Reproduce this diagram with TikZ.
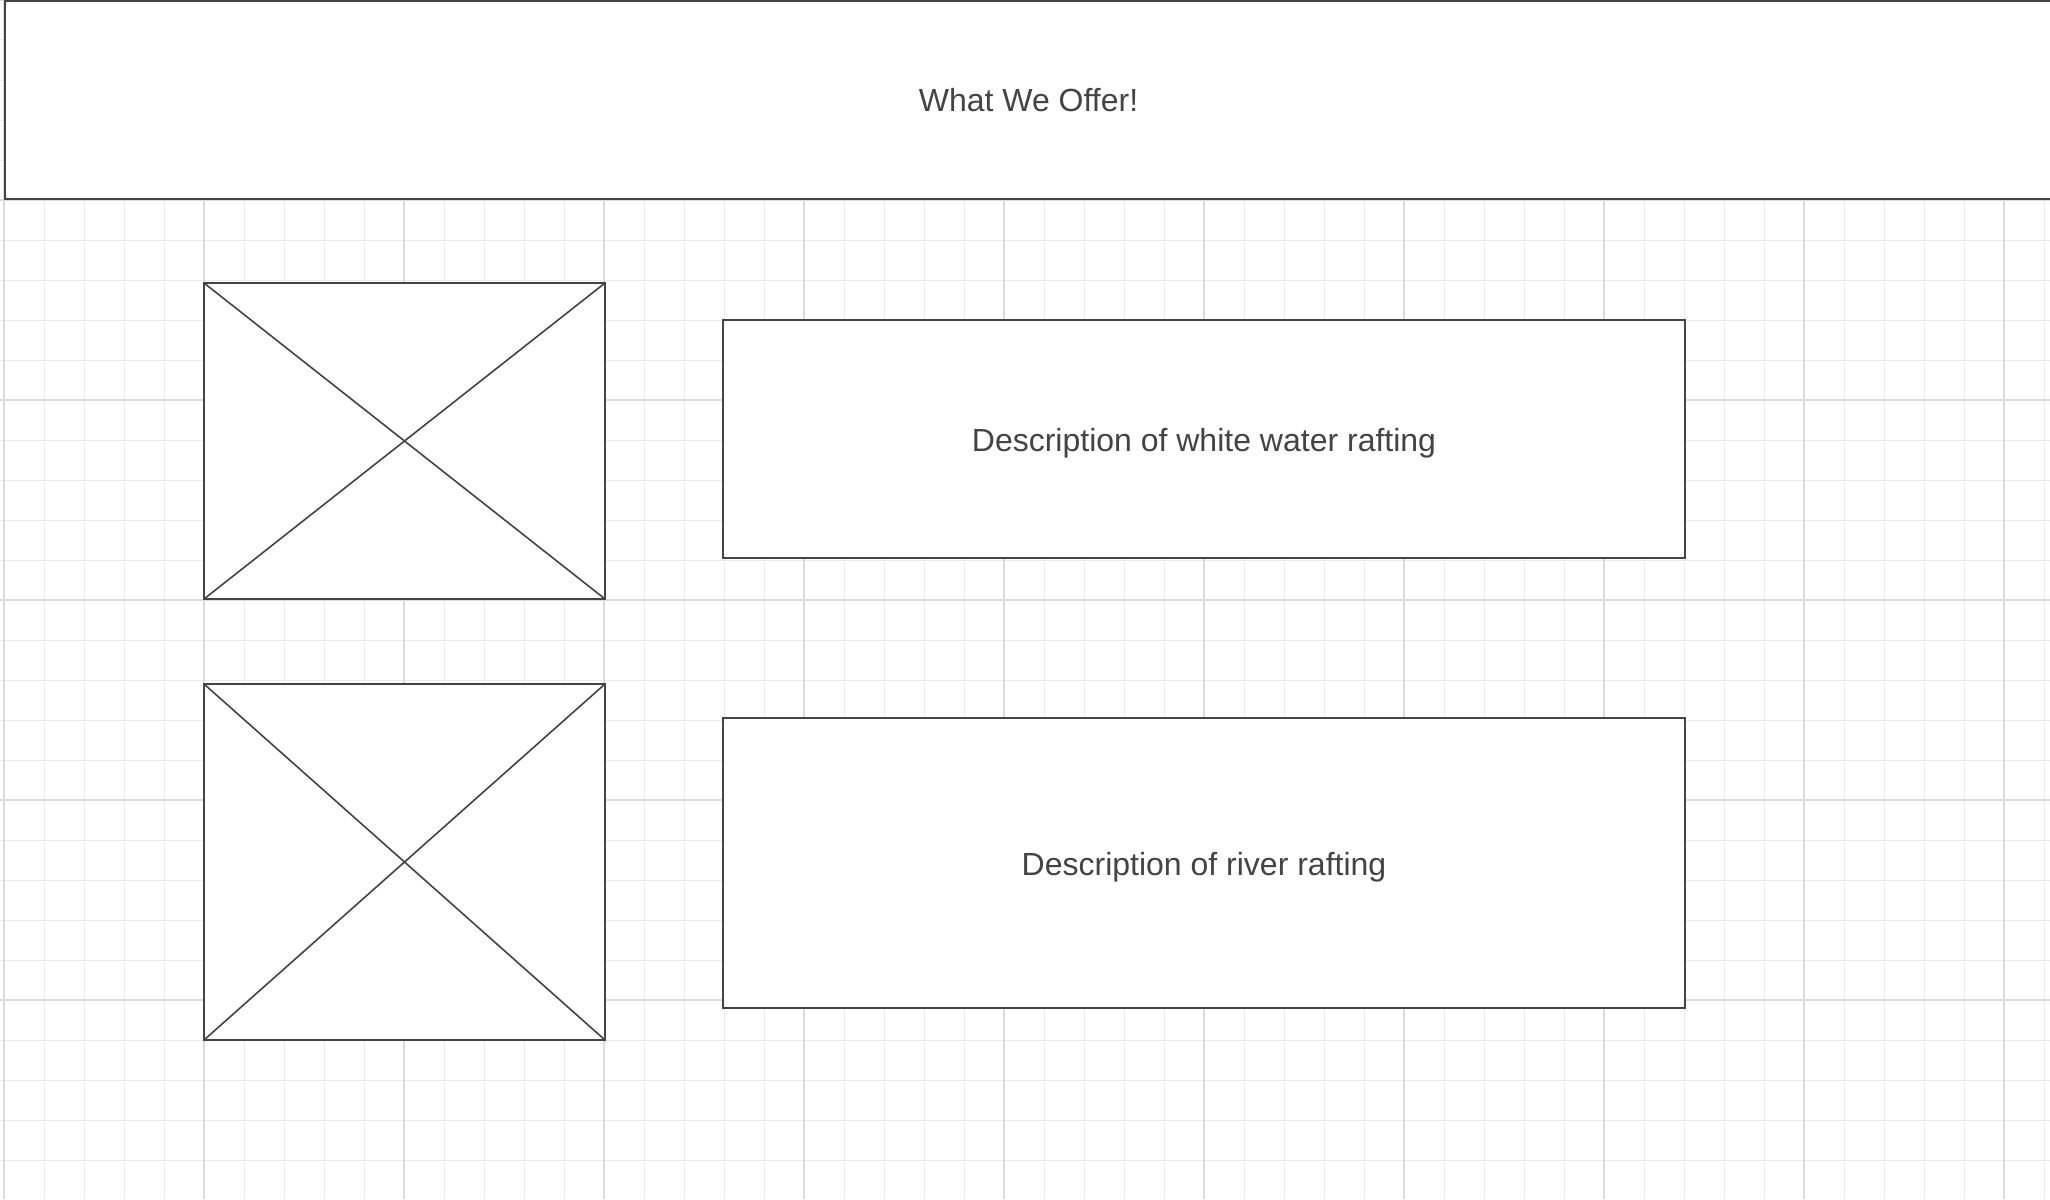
\documentclass[tikz,border=0pt]{standalone}
\usepackage{fontspec}
\setmainfont{Liberation Sans}
\definecolor{ink}{HTML}{444444}
\definecolor{gridminor}{HTML}{EBEBEB}
\definecolor{gridmajor}{HTML}{DCDCDC}
\begin{document}
\begin{tikzpicture}[x=1pt,y=-1pt,
  box/.style={draw=ink,line width=2pt,fill=white,inner sep=0pt,outer sep=0pt,
    text=ink,font=\fontsize{32}{38}\selectfont},
  cross/.style={draw=ink,line width=1.6pt}]
\useasboundingbox (0,0) rectangle (2050,1199);
% grid
\foreach \i in {0,...,51} {
  \pgfmathsetmacro{\xx}{4+40*\i}
  \draw[gridminor,line width=1pt] (\xx,0) -- (\xx,1199);
}
\foreach \i in {0,...,30} {
  \pgfmathsetmacro{\yy}{40*\i}
  \draw[gridminor,line width=1pt] (0,\yy) -- (2050,\yy);
}
\foreach \i in {0,...,10} {
  \pgfmathsetmacro{\xx}{4+200*\i}
  \draw[gridmajor,line width=1.2pt] (\xx,0) -- (\xx,1199);
}
\foreach \i in {0,...,5} {
  \pgfmathsetmacro{\yy}{200*\i}
  \draw[gridmajor,line width=1.2pt] (0,\yy) -- (2050,\yy);
}
% header
\node[box,minimum width=2047pt,minimum height=198pt,text height=22pt,text depth=0pt] (header) at (1028.5,100) {What We Offer!};
% image placeholders
\node[box,minimum width=401pt,minimum height=316pt] (img1) at (404.5,441) {};
\draw[cross] (img1.north west) -- (img1.south east);
\draw[cross] (img1.south west) -- (img1.north east);
\node[box,minimum width=401pt,minimum height=356pt] (img2) at (404.5,862) {};
\draw[cross] (img2.north west) -- (img2.south east);
\draw[cross] (img2.south west) -- (img2.north east);
% descriptions
\node[box,minimum width=962pt,minimum height=238pt,text height=24pt,text depth=0pt] (desc1) at (1204,439) {Description of white water rafting};
\node[box,minimum width=962pt,minimum height=290pt,text height=24pt,text depth=0pt] (desc2) at (1204,863) {Description of river rafting};
\end{tikzpicture}
\end{document}
